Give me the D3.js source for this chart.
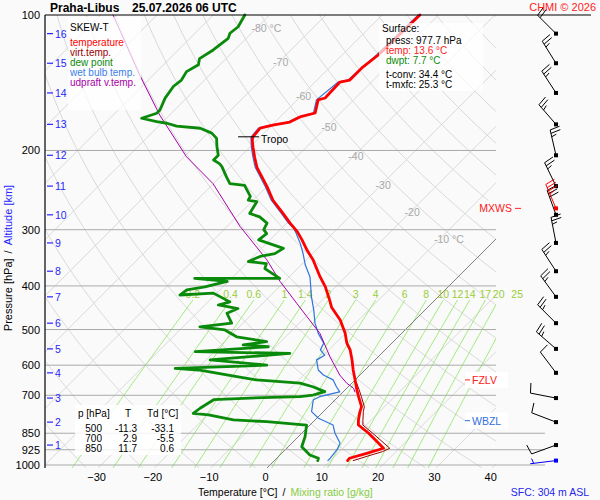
<!DOCTYPE html>
<html>
<head>
<meta charset="utf-8">
<script src="https://cdn.jsdelivr.net/npm/d3@7"></script>
<style>
  body { margin: 0; background: #fafafa; }
  svg text { font-family: "Liberation Sans", Arial, sans-serif; font-size: 10.5px; }
  svg .small { font-size: 10px; }
</style>
</head>
<body>
<svg id="chart" width="600" height="500"></svg>
<script>
const pressureTicks = [100, 200, 300, 400, 500, 600, 700, 850, 925, 1000];
const tempTicks = [-30, -20, -10, 0, 10, 20, 30, 40];
const isothermLabelT = [-80, -70, -60, -50, -40, -30, -20, -10];
const isothermLabelP = [106.7, 127.4, 151.1, 177.1, 205.7, 238.7, 274.5, 315.1];
const altKm = [1, 2, 3, 4, 5, 6, 7, 8, 9, 10, 11, 12, 13, 14, 15, 16];
const altP = [903, 803, 710, 624, 552, 484, 423, 371, 321, 278, 240, 205, 175, 149, 128, 110];
const mixRatios = [0.2, 0.4, 0.6, 1, 1.4, 2, 3, 4, 6, 8, 10, 12, 14, 17, 20, 25];

// [pressure hPa, temperature °C]
const tempProfile = [
  [977.7, 13.0], [966, 12.9], [942, 15.1], [918, 17.2], [849, 11.8], [815, 8.6], [794, 7.7],
  [761, 6.5], [742, 5.9], [705, 3.6], [681, 2.1], [647, 0.0], [615, -2.1], [584, -4.1],
  [555, -6.2], [536, -8.0], [509, -10.1], [476, -13.3], [446, -17.1], [430, -18.7],
  [402, -21.8], [382, -24.5], [350, -28.8], [333, -31.6], [316, -34.3], [303, -36.6],
  [290, -39.4], [275, -42.6], [258, -46.5], [241, -49.9], [229, -52.6], [218, -55.2],
  [207, -57.4], [197.5, -59.3], [191, -60.6], [187, -61.3], [178.3, -61.6], [175.6, -59.9],
  [172.9, -57.4], [168.5, -56.5], [165.1, -54.5], [154.4, -56.3], [152.9, -55.4],
  [140.9, -55.6], [139.5, -54.2], [130.5, -54.2], [122.7, -53.6], [100, -53.3]
];
const virtProfile = [
  [977.7, 14.0], [955, 15.8], [934, 17.6], [918, 18.3], [850, 12.6], [815, 9.4], [794, 8.5],
  [761, 7.1], [742, 6.4], [705, 4.1], [681, 2.5], [657, 0.8]
];
const dewProfile = [
  [977.7, 7.7], [966, 7.4], [950, 5.3], [911, 2.4], [865, 1.2], [815, -0.6], [801, -8.3],
  [794, -14.5], [774, -19.8], [768, -22.8], [748, -22.5], [716, -21.6], [710, -15.5],
  [705, -6.8], [699, -4.8], [687, -3.3], [670, -6.3], [658, -9.2], [647, -17.5], [636, -21.6],
  [615, -29.6], [610, -34.0], [600, -18.3], [584, -29.3], [565, -16.3], [560, -33.4],
  [546, -21.3], [541, -26.1], [532, -22.5], [519, -28.7], [501, -32.0], [493, -37.0],
  [484, -32.0], [460, -34.6], [449, -33.5], [441, -37.6], [434, -36.1], [415, -40.6],
  [419, -46.2], [408, -45.9], [402, -43.2], [391, -40.2], [385, -46.5], [385, -31.4],
  [366, -35.8], [357, -36.4], [353, -40.0], [344, -38.8], [339, -36.7], [330, -36.1],
  [316, -42.0], [306, -41.7], [300, -42.9], [290, -43.5], [281, -45.9], [276, -48.3],
  [260, -49.1], [258, -50.9], [253, -51.2], [239, -54.2], [237, -57.1], [229, -58.9],
  [217, -61.6], [214, -62.5], [210, -64.2], [205, -64.2], [196, -66.0], [188, -67.5],
  [183, -69.3], [178.5, -72.2], [176.5, -76.8], [174, -79.0], [172.6, -81.1], [169.6, -84.4],
  [165.3, -82.6], [162.6, -82.6], [153, -83.8], [144, -84.4], [139.5, -84.1], [133.6, -84.7],
  [129, -83.8], [125, -84.7], [119.6, -83.8], [112.7, -83.2], [109.8, -83.8], [106.2, -83.5],
  [100, -84.4]
];
const wetBulbProfile = [
  [977.7, 9.5], [966, 9.5], [926, 9.2], [895, 8.6], [850, 5.9], [815, 4.1], [787, 0.3],
  [761, -2.1], [716, -3.9], [705, -3.3], [693, -1.5], [688, -0.6], [670, -2.1], [647, -3.9],
  [631, -6.5], [615, -8.3], [584, -10.4], [570, -9.8], [555, -11.5], [536, -12.1],
  [510, -14.8], [484, -17.2], [452, -19.8], [423, -22.5], [382, -26.3], [359, -29.3],
  [338, -31.8], [321, -34.1], [305, -36.6], [297, -38.0], [290, -39.7], [275, -42.9],
  [258, -46.8], [241, -50.2], [229, -52.9], [218, -55.5], [207, -57.7], [197.5, -59.6],
  [187, -61.6], [178.3, -61.9], [175.6, -60.2], [172.9, -57.7], [168.5, -56.8],
  [165.1, -54.8], [154.4, -56.6], [140.9, -55.9], [139.5, -54.5], [122.7, -53.9], [100, -53.6]
];
const updraftProfile = [
  [688, 2.1], [675, 1.2], [658, -0.9], [631, -3.6], [574.5, -8.6], [510, -14.5], [468, -19.8],
  [437, -24.0], [391, -30.8], [350, -37.0], [295, -47.7], [237, -60.1], [206.5, -69.6],
  [167, -81.7], [136, -92.4], [100, -107.8]
];

// winds: surface + every km
const windP = [977.7].concat(altP);
const windDir = [263, 250, 291, 281, 323, 311, 315, 324, 327, 349, 340, 334, 347, 319, 327, 328, 315];
const windSpd = [3, 10, 10, 10, 10, 25, 25, 25, 25, 25, 30, 25, 25, 25, 25, 25, 20];
const maxWind = { p: 269, dir: 337, spd: 35 };

const tableP = [500, 700, 850];
const tableT = [-11.3, 2.9, 11.7];
const tableTd = [-33.1, -5.5, 0.6];

const tropoP = 186.5, tropoT = -61.3;
const fzlvP = 647, wbzlP = 797;

// ---- scales ----
const svg = d3.select('#chart');
const y = d3.scaleLog().domain([100, 1000]).range([15, 465]);
const xBase = d3.scaleLinear().domain([0, 10]).range([265, 321.3]);
const yRef = 470;
const pBottom = 1015;
const left = 45, right = 496;
const skewX = (t, p) => xBase(t) + (yRef - y(p));
const profileLine = d3.line().x(d => skewX(d[1], d[0])).y(d => y(d[0]));

svg.append('rect').attr('width', 600).attr('height', 500).attr('fill', '#fafafa');

svg.append('clipPath').attr('id', 'plotClip')
  .append('rect').attr('x', left).attr('y', 15).attr('width', right - left).attr('height', y(pBottom) - 15);

const grid = svg.append('g').attr('clip-path', 'url(#plotClip)');

// isotherms
d3.range(-120, 50, 10).forEach(t => {
  grid.append('line')
    .attr('x1', skewX(t, pBottom)).attr('y1', y(pBottom))
    .attr('x2', skewX(t, 100)).attr('y2', y(100))
    .attr('stroke', '#d9d9d9').attr('stroke-width', 1);
});

// dry adiabats
const levels = d3.range(pBottom, 99, -5);
d3.range(230, 460, 10).forEach(theta => {
  const pts = levels.map(p => [p, theta * Math.pow(p / 1000, 0.2857) - 273.15]);
  grid.append('path').attr('d', profileLine(pts))
    .attr('fill', 'none').attr('stroke', '#d9d9d9').attr('stroke-width', 1);
});

// isotherm labels
svg.selectAll('.isoLabel').data(isothermLabelT).enter().append('text')
  .attr('x', (t, i) => skewX(t, isothermLabelP[i]) - 5.5)
  .attr('y', (t, i) => y(isothermLabelP[i]) + 4)
  .attr('fill', '#a8a8a8')
  .text(t => (t === -80 || t === -10) ? t + ' °C' : t);

// pressure lines
pressureTicks.slice(1).forEach(p => {
  svg.append('line')
    .attr('x1', left).attr('x2', p >= 850 ? 545 : right)
    .attr('y1', y(p)).attr('y2', y(p))
    .attr('stroke', '#aaaaaa').attr('stroke-width', 1);
});

// mixing ratio lines
const dewFromMix = (w, p) => {
  const e = w * p / (622 + w);
  const l = Math.log(e / 6.112);
  return 243.5 * l / (17.67 - l);
};
const mixLevels = d3.range(pBottom, 429, -5);
mixRatios.forEach(w => {
  const pts = mixLevels.map(p => [p, dewFromMix(w, p)]);
  grid.append('path').attr('d', profileLine(pts))
    .attr('fill', 'none').attr('stroke', '#9eea78').attr('stroke-width', 1);
  svg.append('text')
    .attr('x', skewX(dewFromMix(w, 430), 430)).attr('y', y(430) - 2)
    .attr('text-anchor', 'middle').attr('fill', '#9acd3a')
    .text(w);
});

// 0 °C isotherm
grid.append('line')
  .attr('x1', skewX(0, pBottom)).attr('y1', y(pBottom))
  .attr('x2', skewX(0, 100)).attr('y2', y(100))
  .attr('stroke', '#808080').attr('stroke-width', 1);

// ---- profiles ----
const drawProfile = (data, color, width) => svg.append('path').datum(data)
  .attr('d', profileLine).attr('fill', 'none')
  .attr('stroke', color).attr('stroke-width', width)
  .attr('stroke-linejoin', 'round').attr('stroke-linecap', 'round');

drawProfile(wetBulbProfile, '#2f74e0', 1.2);
drawProfile(updraftProfile, '#a800a8', 1);
drawProfile(dewProfile, '#0a8a0a', 2.8);
drawProfile(virtProfile, '#990000', 1);
drawProfile(tempProfile, '#ff0000', 2.8);

// tropopause
const tx = skewX(tropoT, tropoP);
svg.append('line').attr('x1', tx - 15).attr('x2', tx + 6)
  .attr('y1', y(tropoP)).attr('y2', y(tropoP)).attr('stroke', '#000');
svg.append('text').attr('x', tx + 8).attr('y', y(tropoP) + 6).text('Tropo');

// level labels on the right
const levelLabel = (p, label, color) => {
  const g = svg.append('g');
  g.append('rect').attr('x', 465).attr('y', y(p) - 8).attr('width', 43).attr('height', 16).attr('fill', '#ffffff');
  g.append('line').attr('x1', 465).attr('x2', 470).attr('y1', y(p)).attr('y2', y(p)).attr('stroke', color);
  g.append('text').attr('x', 472).attr('y', y(p) + 4).attr('fill', color).text(label);
};
levelLabel(fzlvP, 'FZLV', '#ff2020');
levelLabel(wbzlP, 'WBZL', '#3070e0');

svg.append('rect').attr('x', 478).attr('y', y(maxWind.p) - 8).attr('width', 45).attr('height', 16).attr('fill', '#fafafa');
svg.append('text').attr('x', 512).attr('y', y(maxWind.p) + 4).attr('text-anchor', 'end')
  .attr('fill', '#ff2020').text('MXWS');
svg.append('line').attr('x1', 515).attr('x2', 521).attr('y1', y(maxWind.p)).attr('y2', y(maxWind.p))
  .attr('stroke', '#ff2020');

// ---- boxes (semi-transparent white, curves show through faded) ----
const legend = svg.append('g');
legend.append('rect').attr('x', 68).attr('y', 17).attr('width', 73).attr('height', 93)
  .style('fill', '#ffffff').style('fill-opacity', 0.7);
const legendItems = ['SKEW-T', 'temperature', 'virt.temp.', 'dew point', 'wet bulb temp.', 'udpraft v.temp.'];
const legendColors = ['#000000', '#ff0000', '#990000', '#0a8a0a', '#3a7ee8', '#a800a8'];
legend.selectAll('text').data(legendItems).enter().append('text')
  .attr('class', 'small')
  .attr('x', 70).attr('y', (d, i) => i === 0 ? 30.5 : 36 + i * 10)
  .attr('fill', (d, i) => legendColors[i]).text(d => d);

const sfc = svg.append('g');
sfc.append('rect').attr('x', 379).attr('y', 23).attr('width', 104).attr('height', 68)
  .style('fill', '#ffffff').style('fill-opacity', 0.7);
const sfcLines = [
  ['Surface:', 382, 31.5, '#000'], ['press: 977.7 hPa', 386, 44, '#000'],
  ['temp: 13.6 °C', 386, 54, '#ff2020'], ['dwpt: 7.7 °C', 386, 64, '#0a8a0a'],
  ['t-conv: 34.4 °C', 386, 78, '#000'], ['t-mxfc: 25.3 °C', 386, 88, '#000']
];
sfc.selectAll('text').data(sfcLines).enter().append('text')
  .attr('class', 'small')
  .attr('x', d => d[1]).attr('y', d => d[2]).attr('fill', d => d[3]).text(d => d[0]);

const table = svg.append('g');
table.append('rect').attr('x', 75).attr('y', 405).attr('width', 106).attr('height', 50)
  .style('fill', '#ffffff').style('fill-opacity', 0.85);
table.append('text').attr('class', 'small').attr('x', 78).attr('y', 417).text('p [hPa]');
table.append('text').attr('class', 'small').attr('x', 125).attr('y', 417).text('T');
table.append('text').attr('class', 'small').attr('x', 147).attr('y', 417).text('Td [°C]');
tableP.forEach((p, i) => {
  const ty = 432 + i * 10;
  table.append('text').attr('class', 'small').attr('x', 102).attr('y', ty).attr('text-anchor', 'end').text(p);
  table.append('text').attr('class', 'small').attr('x', 137).attr('y', ty).attr('text-anchor', 'end').text(tableT[i].toFixed(1));
  table.append('text').attr('class', 'small').attr('x', 174).attr('y', ty).attr('text-anchor', 'end').text(tableTd[i].toFixed(1));
});

// ---- axes ----
const yAxis = svg.append('g').attr('transform', `translate(${left},0)`)
  .call(d3.axisLeft(y).tickValues(pressureTicks).tickFormat(d3.format('d')).tickSize(0).tickPadding(5));
yAxis.select('.domain').remove();
yAxis.selectAll('text').attr('fill', '#000').style('font-size', '11px');

const xAxis = svg.append('g').attr('transform', `translate(0,${yRef})`)
  .call(d3.axisBottom(xBase).tickValues(tempTicks).tickSize(0).tickPadding(3));
xAxis.select('.domain').remove();
xAxis.selectAll('text').attr('fill', '#000').style('font-size', '11px');

svg.append('line').attr('x1', left).attr('x2', left).attr('y1', 15).attr('y2', y(pBottom))
  .attr('stroke', '#000').attr('stroke-width', 1.2);
svg.append('line').attr('x1', left).attr('x2', 591).attr('y1', 15).attr('y2', 15)
  .attr('stroke', '#000').attr('stroke-width', 1.2);

// altitude ticks
const altG = svg.append('g');
altKm.forEach((km, i) => {
  altG.append('line').attr('x1', 47).attr('x2', 53).attr('y1', y(altP[i])).attr('y2', y(altP[i]))
    .attr('stroke', '#2626ff').attr('stroke-width', 1.2);
  altG.append('text').attr('x', 55).attr('y', y(altP[i]) + 4).attr('fill', '#2626ff').text(km);
});

// ---- wind barbs ----
function drawBarb(p, dir, spd, color) {
  const x0 = 556, y0 = y(p);
  const a = dir * Math.PI / 180;
  const ux = Math.sin(a), uy = -Math.cos(a);
  const fx = -uy, fy = ux;
  const L = 26, step = 3.5;
  const tipX = x0 + ux * L, tipY = y0 + uy * L;
  const g = svg.append('g').attr('stroke', color).attr('fill', 'none').attr('stroke-width', 1);
  g.append('line').attr('x1', x0).attr('y1', y0).attr('x2', tipX).attr('y2', tipY);
  let s = Math.round(spd / 5) * 5;
  let pos = 0;
  const feather = len => {
    const px = tipX - ux * pos, py = tipY - uy * pos;
    g.append('line').attr('x1', px).attr('y1', py)
      .attr('x2', px + fx * len + ux * 1.5).attr('y2', py + fy * len + uy * 1.5);
  };
  while (s >= 10) { feather(10); pos += step; s -= 10; }
  if (s >= 5) { if (pos === 0) pos = step; feather(5); }
  svg.append('rect').attr('x', x0 - 2).attr('y', y0 - 2).attr('width', 4).attr('height', 4)
    .attr('fill', color);
}
windP.forEach((p, i) => {
  drawBarb(p, windDir[i], windSpd[i], i === 0 ? '#0000ee' : '#000');
});
drawBarb(maxWind.p, maxWind.dir, maxWind.spd, '#ff0000');

// ---- titles ----
svg.append('text').attr('x', 50).attr('y', 12).style('font-size', '12px').style('font-weight', 'bold')
  .text('Praha-Libus');
svg.append('text').attr('x', 132).attr('y', 12).style('font-size', '12px').style('font-weight', 'bold')
  .text('25.07.2026 06 UTC');
svg.append('text').attr('x', 596).attr('y', 11).attr('text-anchor', 'end').attr('fill', '#ff2020')
  .style('font-size', '11px').text('CHMI © 2026');

const yTitle = svg.append('text').attr('transform', 'translate(12,258) rotate(-90)')
  .attr('text-anchor', 'middle').style('font-size', '11px');
yTitle.append('tspan').attr('fill', '#000').text('Pressure [hPa]');
yTitle.append('tspan').attr('fill', '#000').attr('dx', 5).text('/');
yTitle.append('tspan').attr('fill', '#2626ff').attr('dx', 5).text('Altitude [km]');

const xTitle = svg.append('text').attr('x', 198).attr('y', 496);
xTitle.append('tspan').attr('fill', '#000').text('Temperature [°C]');
xTitle.append('tspan').attr('fill', '#000').attr('dx', 5).text('/');
xTitle.append('tspan').attr('fill', '#88cc44').attr('dx', 5).text('Mixing ratio [g/kg]');

svg.append('text').attr('x', 589).attr('y', 496).attr('text-anchor', 'end').attr('fill', '#2626ee')
  .text('SFC: 304 m ASL');
</script>
</body>
</html>
